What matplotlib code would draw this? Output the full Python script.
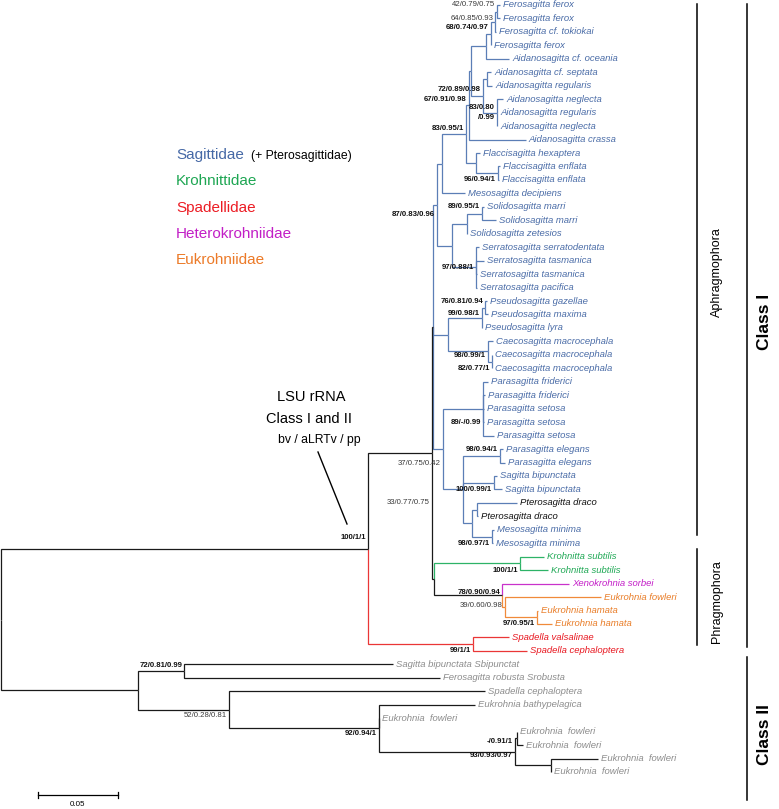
import matplotlib.pyplot as plt

plt.rcParams['font.family'] = ['Liberation Sans', 'DejaVu Sans']

W, H = 779, 809
PX_PER_UNIT = 1600   # scale bar: 0.05 subs/site = 80 px
ROW = 13.456         # px between tips
TOP = 5              # px of first tip

# ---- tips, top to bottom ----
leaf_names = [
    'Ferosagitta ferox', 'Ferosagitta ferox', 'Ferosagitta cf. tokiokai', 'Ferosagitta ferox',
    'Aidanosagitta cf. oceania', 'Aidanosagitta cf. septata', 'Aidanosagitta regularis',
    'Aidanosagitta neglecta', 'Aidanosagitta regularis', 'Aidanosagitta neglecta',
    'Aidanosagitta crassa', 'Flaccisagitta hexaptera', 'Flaccisagitta enflata', 'Flaccisagitta enflata',
    'Mesosagitta decipiens', 'Solidosagitta marri', 'Solidosagitta marri', 'Solidosagitta zetesios',
    'Serratosagitta serratodentata', 'Serratosagitta tasmanica', 'Serratosagitta tasmanica',
    'Serratosagitta pacifica', 'Pseudosagitta gazellae', 'Pseudosagitta maxima', 'Pseudosagitta lyra',
    'Caecosagitta macrocephala', 'Caecosagitta macrocephala', 'Caecosagitta macrocephala',
    'Parasagitta friderici', 'Parasagitta friderici', 'Parasagitta setosa', 'Parasagitta setosa',
    'Parasagitta setosa', 'Parasagitta elegans', 'Parasagitta elegans', 'Sagitta bipunctata',
    'Sagitta bipunctata', 'Pterosagitta draco', 'Pterosagitta draco', 'Mesosagitta minima',
    'Mesosagitta minima', 'Krohnitta subtilis', 'Krohnitta subtilis', 'Xenokrohnia sorbei',
    'Eukrohnia fowleri', 'Eukrohnia hamata', 'Eukrohnia hamata', 'Spadella valsalinae',
    'Spadella cephaloptera', 'Sagitta bipunctata Sbipunctat', 'Ferosagitta robusta Srobusta',
    'Spadella cephaloptera', 'Eukrohnia bathypelagica', 'Eukrohnia  fowleri', 'Eukrohnia  fowleri',
    'Eukrohnia  fowleri', 'Eukrohnia  fowleri', 'Eukrohnia  fowleri',
]
# tip depth from root (subs/site)
leaf_tip = [
    0.3119, 0.3119, 0.3094, 0.3063, 0.3175, 0.3063, 0.3069, 0.3138, 0.3100, 0.3100,
    0.3281, 0.2994, 0.3119, 0.3113, 0.2900, 0.3019, 0.3094, 0.2913, 0.2988, 0.3019,
    0.2975, 0.2975, 0.3038, 0.3044, 0.3006, 0.3075, 0.3069, 0.3069, 0.3044, 0.3025,
    0.3019, 0.3019, 0.3081, 0.3138, 0.3150, 0.3100, 0.3131, 0.3225, 0.2981, 0.3081,
    0.3075, 0.3394, 0.3419, 0.3550, 0.3750, 0.3356, 0.3444, 0.3175, 0.3288, 0.2450,
    0.2744, 0.3025, 0.2963, 0.2363, 0.3225, 0.3263, 0.3731, 0.3438,
]
leaf_group = ['sag'] * 37 + ['ptero'] * 2 + ['sag'] * 2 + ['kro'] * 2 + ['het'] + ['euk'] * 3 \
    + ['spa'] * 2 + ['c2'] * 9

# ---- internal nodes (children: int = tip index, str = node) ----
node_names = ['root', 'ClassI', 'CI_A', 'SAG', 'N_UP', 'N_M', 'N0', 'N1', 'N2', 'N_F5', 'N_F1234',
              'N_F123', 'N_F12', 'N_Aid', 'N_A67', 'N_A8910', 'N_Fl', 'N_Fl2', 'N_SS', 'N_S',
              'N_S12', 'N_Se', 'N_PC', 'N_Ps', 'N_Ps2', 'N_Ca', 'N_Ca2', 'N37', 'N_Pa', 'N_EBPM',
              'N_E', 'N_B', 'N_PM', 'N_P', 'N_Mi', 'CI_B', 'N_K', 'N_X', 'N_Eu', 'N_Eh', 'Spad',
              'ClassII', 'C2a', 'C2b', 'C2c', 'C2d', 'C2dp', 'C2e']
node_depth = [0.0, 0.2294, 0.2694, 0.2700, 0.2725, 0.2756, 0.2906, 0.2925, 0.2938, 0.3031, 0.3063,
              0.3088, 0.3100, 0.3013, 0.3038, 0.3100, 0.2969, 0.3106, 0.2819, 0.2913,
              0.3006, 0.2969, 0.2794, 0.3006, 0.3025, 0.3044, 0.3069, 0.2763, 0.3013, 0.2888,
              0.3119, 0.3081, 0.2944, 0.2975, 0.3069, 0.2706, 0.3244, 0.3131, 0.3150, 0.3350, 0.2950,
              0.0856, 0.1144, 0.1425, 0.2363, 0.3213, 0.3225, 0.3438]
node_children = [
    ['ClassI', 'ClassII'], ['CI_A', 'Spad'], ['SAG', 'CI_B'], ['N_UP', 'N_PC', 'N37'],
    ['N_M', 'N_SS'], ['N0', 14], ['N1', 'N_Fl'], ['N2', 10], ['N_F5', 'N_Aid'], ['N_F1234', 4],
    ['N_F123', 3], ['N_F12', 2], [0, 1], ['N_A67', 'N_A8910'], [5, 6], [7, 8, 9], [11, 'N_Fl2'],
    [12, 13], ['N_S', 'N_Se'], ['N_S12', 17], [15, 16], [18, 19, 20, 21], ['N_Ps', 'N_Ca'],
    ['N_Ps2', 24], [22, 23], [25, 'N_Ca2'], [26, 27], ['N_Pa', 'N_EBPM'], [28, 29, 30, 31, 32],
    ['N_E', 'N_B', 'N_PM'], [33, 34], [35, 36], ['N_P', 'N_Mi'], [37, 38], [39, 40],
    ['N_K', 'N_X'], [41, 42], [43, 'N_Eu'], [44, 'N_Eh'], [45, 46], [47, 48],
    ['C2a', 'C2b'], [49, 50], [51, 'C2c'], [52, 53, 'C2d'], ['C2dp', 'C2e'], [54, 55], [56, 57],
]
node_group = ['stem', 'stem', 'stem', 'stem'] + ['sag'] * 31 + ['stem', 'kro', 'stem', 'euk', 'euk', 'spa'] \
    + ['c2'] * 7

# ---- support values bv / aLRTv / pp ----
support_node = ['N_F12', 'N_F123', 'N_F1234', 'N_Aid', 'N1', 'N_A8910', 'N0', 'N_Fl2', 'N_S12', 'N_UP',
                'N_Se', 'N_Ps2', 'N_Ps', 'N_Ca', 'N_Ca2', 'N_Pa', 'N_E', 'N_B', 'N37', 'CI_A', 'N_Mi',
                'N_K', 'N_X', 'N_Eu', 'N_Eh', 'Spad', 'ClassI', 'C2a', 'C2b', 'C2c', 'C2d', 'C2d']
support_text = ['42/0.79/0.75', '64/0.85/0.93', '68/0.74/0.97', '72/0.89/0.98', '67/0.91/0.98',
                '83/0.80\n/0.99', '83/0.95/1', '96/0.94/1', '89/0.95/1', '87/0.83/0.96', '97/0.88/1',
                '76/0.81/0.94', '99/0.98/1', '98/0.99/1', '82/0.77/1', '89/-/0.99', '98/0.94/1',
                '100/0.99/1', '37/0.75/0.42', '33/0.77/0.75', '98/0.97/1', '100/1/1', '78/0.90/0.94',
                '39/0.60/0.98', '97/0.95/1', '99/1/1', '100/1/1', '72/0.81/0.99', '52/0.28/0.81',
                '92/0.94/1', '-/0.91/1', '93/0.93/0.97']
support_bold = [False, False, True, True, True, True, True, True, True, True, True, True, True, True,
                True, True, True, True, False, False, True, True, True, False, True, True, True, True,
                False, True, True, True]
# vertical offset of each support label from its node, in tip rows
support_dy = [-0.5, -0.28, -0.42, -0.5, -0.45, 0, -0.45, 0.5, -0.5, 0.75, 0, -0.5, -0.3, 0.3, 0.5,
              1.0, -0.5, 0.47, 1.05, 3.7, 0.5, 0.5, -0.25, -0.15, 0.5, 0.5, -0.8, -0.45, 0.4, 0.4,
              -0.8, 0.3]

families = ['Sagittidae', 'Krohnittidae', 'Spadellidae', 'Heterokrohniidae', 'Eukrohniidae']
family_colors = ['#4669a6', '#1ea653', '#ec1c24', '#c21fc6', '#ec7a28']

line_colors = {'sag': '#5b7eb6', 'ptero': '#5b7eb6', 'kro': '#2db367', 'het': '#c932cb',
               'euk': '#f08a3a', 'spa': '#ea3636', 'stem': '#1a1a1a', 'c2': '#1a1a1a'}
text_colors = {'sag': '#4a6ca7', 'ptero': '#111111', 'kro': '#1fa855', 'het': '#c41fc8',
               'euk': '#e97d28', 'spa': '#e8161f', 'c2': '#8c8c8c'}

fig = plt.figure(figsize=(W / 100, H / 100), dpi=100)
ax = fig.add_axes([0, 0, 1, 1])
ax.set_xlim(-1 / PX_PER_UNIT, (W - 1) / PX_PER_UNIT)
ax.set_ylim((H - TOP) / ROW, -TOP / ROW)
ax.axis('off')

depth = dict(zip(node_names, node_depth))
kids = dict(zip(node_names, node_children))
grp = dict(zip(node_names, node_group))
ypos = {}


def y_of(n):
    if isinstance(n, int):
        return n
    if n not in ypos:
        ch = kids[n]
        ypos[n] = (y_of(ch[0]) + y_of(ch[-1])) / 2
    return ypos[n]


def x_of(n):
    return leaf_tip[n] if isinstance(n, int) else depth[n]


def g_of(n):
    return leaf_group[n] if isinstance(n, int) else grp[n]


for n in node_names:
    px, py = depth[n], y_of(n)
    for c in kids[n]:
        g = g_of(c)
        z = 3 if g in ('stem', 'c2') else 2
        ax.plot([px, px, x_of(c)], [py, y_of(c), y_of(c)], color=line_colors[g], lw=0.9,
                zorder=z, solid_joinstyle='miter', solid_capstyle='butt')

dx = 1 / PX_PER_UNIT
for i, name in enumerate(leaf_names):
    ax.text(leaf_tip[i] + 3 * dx, i, name, style='italic', fontsize=6.8,
            color=text_colors[leaf_group[i]], ha='left', va='center')

for n, t, b, d in zip(support_node, support_text, support_bold, support_dy):
    ax.text(depth[n] - 2 * dx, y_of(n) + d, t, fontsize=5.6, ha='right', va='center',
            weight='bold' if b else 'normal', color='#111111' if b else '#3a3a3a', linespacing=1.5)

# ---- annotations in pixel space ----
ov = fig.add_axes([0, 0, 1, 1], facecolor='none')
ov.set_xlim(0, W)
ov.set_ylim(H, 0)
ov.axis('off')

for k, (fam, col) in enumerate(zip(families, family_colors)):
    ov.text(176, 155 + 26.3 * k, fam, color=col, fontsize=11, ha='left', va='center')
ov.text(251, 156, '(+ Pterosagittidae)', color='black', fontsize=8.8, ha='left', va='center')

ov.text(311, 397, 'LSU rRNA', fontsize=10.5, ha='center', va='center')
ov.text(309, 419, 'Class I and II', fontsize=10.5, ha='center', va='center')
ov.text(319, 440, 'bv / aLRTv / pp', fontsize=8.8, ha='center', va='center')
ov.plot([318, 347], [452, 524], color='black', lw=1.0)

# clade brackets
ov.plot([697, 697], [4, 535], color='black', lw=1.1)
ov.plot([697, 697], [549, 645], color='black', lw=1.1)
ov.plot([747, 747], [4, 647], color='black', lw=1.1)
ov.plot([747, 747], [657, 800], color='black', lw=1.1)
ov.text(717, 272, 'Aphragmophora', rotation=90, fontsize=9, ha='center', va='center')
ov.text(717, 602, 'Phragmophora', rotation=90, fontsize=9, ha='center', va='center')
ov.text(765, 322, 'Class I', rotation=90, fontsize=12.5, weight='bold', ha='center', va='center')
ov.text(765, 735, 'Class II', rotation=90, fontsize=12.5, weight='bold', ha='center', va='center')

# scale bar
bar = 0.05 * PX_PER_UNIT
ov.plot([38, 38 + bar], [795, 795], color='black', lw=0.9)
ov.plot([38, 38], [792, 798], color='black', lw=0.9)
ov.plot([38 + bar, 38 + bar], [792, 798], color='black', lw=0.9)
ov.text(38 + bar / 2, 804, '0.05', fontsize=5.8, ha='center', va='center')

fig.savefig('out.png', dpi=100)
